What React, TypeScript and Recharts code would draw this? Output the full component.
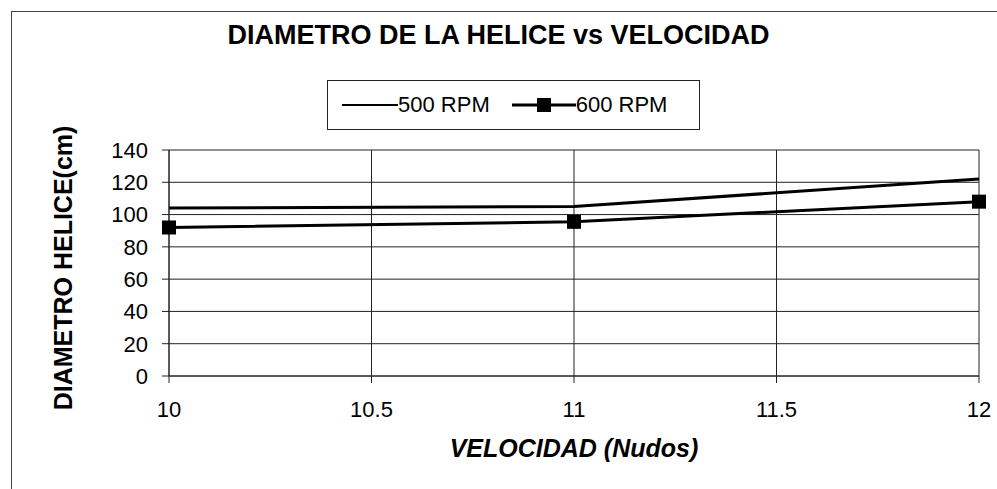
import React from 'react';
import { LineChart, Line, XAxis, YAxis, CartesianGrid } from 'recharts';

// valores
const velocidad = [10, 11, 12];
const rpm500 = [104, 105, 122];
const rpm600 = [92, 95.5, 108];
const xTicks = [10, 10.5, 11, 11.5, 12];
const yTicks = [0, 20, 40, 60, 80, 100, 120, 140];

const data = velocidad.map((v, i) => ({ v, r500: rpm500[i], r600: rpm600[i] }));

const FONT = '"Liberation Sans", Arial, sans-serif';

const SquareDot = (props: any) => {
  const { cx, cy } = props;
  if (cx == null || cy == null) return null;
  return <rect x={cx - 7} y={cy - 7} width={14} height={14} fill="#000" />;
};

// leyenda dibujada aparte para que no le quite alto al grafico
const LegendBox = () => (
  <div
    style={{
      position: 'absolute',
      left: 327,
      top: 80,
      width: 373,
      height: 50,
      boxSizing: 'border-box',
      border: '1px solid #222',
      display: 'flex',
      alignItems: 'center',
      fontFamily: FONT,
      fontSize: 22,
      color: '#000',
    }}
  >
    <svg width={56} height={20} style={{ marginLeft: 14 }}>
      <line x1={0} y1={10} x2={56} y2={10} stroke="#000" strokeWidth={2} />
    </svg>
    <span>500 RPM</span>
    <svg width={64} height={20} style={{ marginLeft: 22 }}>
      <line x1={0} y1={10} x2={64} y2={10} stroke="#000" strokeWidth={3} />
      <rect x={25} y={3} width={14} height={14} fill="#000" />
    </svg>
    <span>600 RPM</span>
  </div>
);

function App(): React.ReactElement {
  return (
    <div style={{ position: 'absolute', left: 0, top: 0, width: 997, height: 489, background: '#fff' }}>
      <div
        style={{
          position: 'absolute',
          left: 11,
          top: 11,
          width: 986,
          height: 478,
          borderTop: '1px solid #444',
          borderLeft: '1px solid #444',
        }}
      />
      <div
        style={{
          position: 'absolute',
          left: 0,
          top: 20,
          width: 997,
          textAlign: 'center',
          fontFamily: FONT,
          fontWeight: 'bold',
          fontSize: 27,
          color: '#000',
        }}
      >
        DIAMETRO DE LA HELICE vs VELOCIDAD
      </div>
      <LegendBox />
      <LineChart
        width={997}
        height={489}
        data={data}
        margin={{ top: 150, right: 18, left: 0, bottom: 0 }}
        style={{ fontFamily: FONT, position: 'absolute', left: 0, top: 0 }}
      >
        <CartesianGrid stroke="#222" strokeWidth={1} horizontalValues={yTicks} verticalValues={xTicks} />
        <XAxis
          dataKey="v"
          type="number"
          domain={[10, 12]}
          ticks={xTicks}
          interval={0}
          height={113}
          tickSize={7}
          tickMargin={18}
          stroke="#222"
          tick={{ fill: '#000', fontSize: 22 }}
          label={{
            value: 'VELOCIDAD (Nudos)',
            position: 'center',
            dy: 16,
            fill: '#000',
            fontSize: 25,
            fontWeight: 'bold',
            fontStyle: 'italic',
          }}
        />
        <YAxis
          type="number"
          domain={[0, 140]}
          ticks={yTicks}
          interval={0}
          width={169}
          tickSize={7}
          tickMargin={14}
          stroke="#222"
          tick={{ fill: '#000', fontSize: 22 }}
          label={{
            value: 'DIAMETRO HELICE(cm)',
            angle: -90,
            position: 'center',
            dx: -21,
            dy: 5,
            fill: '#000',
            fontSize: 25,
            fontWeight: 'bold',
          }}
        />
        <Line
          dataKey="r500"
          name="500 RPM"
          stroke="#000"
          strokeWidth={3}
          dot={false}
          isAnimationActive={false}
        />
        <Line
          dataKey="r600"
          name="600 RPM"
          stroke="#000"
          strokeWidth={3}
          dot={<SquareDot />}
          isAnimationActive={false}
        />
      </LineChart>
    </div>
  );
}

export default App;
